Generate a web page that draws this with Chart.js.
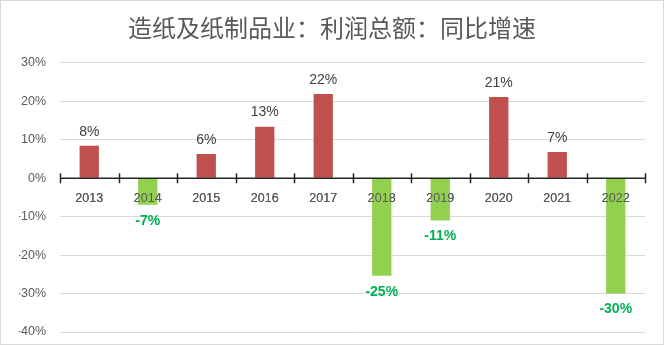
<!DOCTYPE html>
<html>
<head>
<meta charset="utf-8">
<script src="https://cdn.jsdelivr.net/npm/chart.js@4/dist/chart.umd.min.js"></script>
<style>
  html, body { margin: 0; padding: 0; background: #fff; }
  #wrap {
    width: 664px; height: 345px; box-sizing: border-box;
    border: 1px solid #d9d9d9; background: #fff;
  }
  canvas { display: block; }
</style>
</head>
<body>
<div id="wrap"><canvas id="chart" width="662" height="343"></canvas></div>
<script>
// 造纸及纸制品业 利润总额 同比增速（%）
const years = ["2013", "2014", "2015", "2016", "2017", "2018", "2019", "2020", "2021", "2022"];
const growth = [8.4, -6.9, 6.3, 13.4, 21.9, -25.4, -11.0, 21.1, 6.8, -30.0];
const yTicks = [-40, -30, -20, -10, 0, 10, 20, 30];

const RED = "#c0504d";
const GREEN = "#92d050";
const LABEL_GREEN = "#00b050";
const TEXT = "#595959";
const AXIS = "#262626";
const FONT = "'Liberation Sans', Arial, sans-serif";

// 零轴：横线 + 类别之间上下伸出的刻度，年份标签压在柱子上面
const zeroAxis = {
  id: "zeroAxis",
  afterDatasetsDraw(chart) {
    const { ctx, scales: { x, y } } = chart;
    const y0 = y.getPixelForValue(0);
    const step = (x.right - x.left) / years.length;
    ctx.save();
    ctx.strokeStyle = AXIS;
    ctx.lineWidth = 1.5;
    ctx.beginPath();
    ctx.moveTo(x.left, y0);
    ctx.lineTo(x.right, y0);
    for (let i = 0; i <= years.length; i++) {
      const px = Math.round(x.left + i * step) + 0.5;
      ctx.moveTo(px, y0 - 5);
      ctx.lineTo(px, y0 + 5);
    }
    ctx.stroke();
    ctx.restore();
    x.drawLabels(chart.chartArea);
  },
};

// 柱子数值标签：正值在上方（灰色），负值在下方（绿色加粗）
const barLabels = {
  id: "barLabels",
  afterDatasetsDraw(chart) {
    const { ctx } = chart;
    const meta = chart.getDatasetMeta(0);
    ctx.save();
    ctx.textAlign = "center";
    ctx.textBaseline = "middle";
    meta.data.forEach((bar, i) => {
      const v = growth[i];
      const text = Math.round(v) + "%";
      if (v >= 0) {
        ctx.font = "14px " + FONT;
        ctx.fillStyle = "#404040";
        ctx.fillText(text, bar.x, bar.y - 14);
      } else {
        ctx.font = "bold 14px " + FONT;
        ctx.fillStyle = LABEL_GREEN;
        ctx.fillText(text, bar.x, bar.y + 16);
      }
    });
    ctx.restore();
  },
};

new Chart(document.getElementById("chart"), {
  type: "bar",
  data: {
    labels: years,
    datasets: [{
      data: growth,
      backgroundColor: growth.map((v) => (v >= 0 ? RED : GREEN)),
      borderWidth: 0,
      categoryPercentage: 1,
      barPercentage: 0.33,
    }],
  },
  options: {
    responsive: false,
    animation: false,
    layout: { padding: { top: 0, right: 18, bottom: 12, left: 18 } },
    scales: {
      x: {
        position: { y: 0 },
        // 轴画在零线上，不需要在底部占位
        afterFit: (scale) => { scale.height = 0; },
        grid: { display: false },
        border: { display: false },
        ticks: { color: TEXT, font: { family: FONT, size: 12.5 }, padding: 5 },
      },
      y: {
        min: yTicks[0],
        max: yTicks[yTicks.length - 1],
        afterBuildTicks: (scale) => {
          scale.ticks = yTicks.map((v) => ({ value: v }));
        },
        afterFit: (scale) => {
          scale.width = 41;
          scale.paddingTop = 0;
          scale.paddingBottom = 0;
        },
        grid: { color: "#d9d9d9", drawTicks: false },
        border: { display: false },
        ticks: {
          color: TEXT,
          padding: 14,
          font: { family: FONT, size: 12.5 },
          callback: (v) => v + "%",
        },
      },
    },
    plugins: {
      legend: { display: false },
      tooltip: { enabled: false },
      title: {
        display: true,
        text: "造纸及纸制品业：利润总额：同比增速",
        color: TEXT,
        font: { family: "'Noto Sans CJK SC', sans-serif", size: 24, weight: "normal" },
        padding: { top: 12, bottom: 21 },
      },
    },
  },
  plugins: [zeroAxis, barLabels],
});
</script>
</body>
</html>
